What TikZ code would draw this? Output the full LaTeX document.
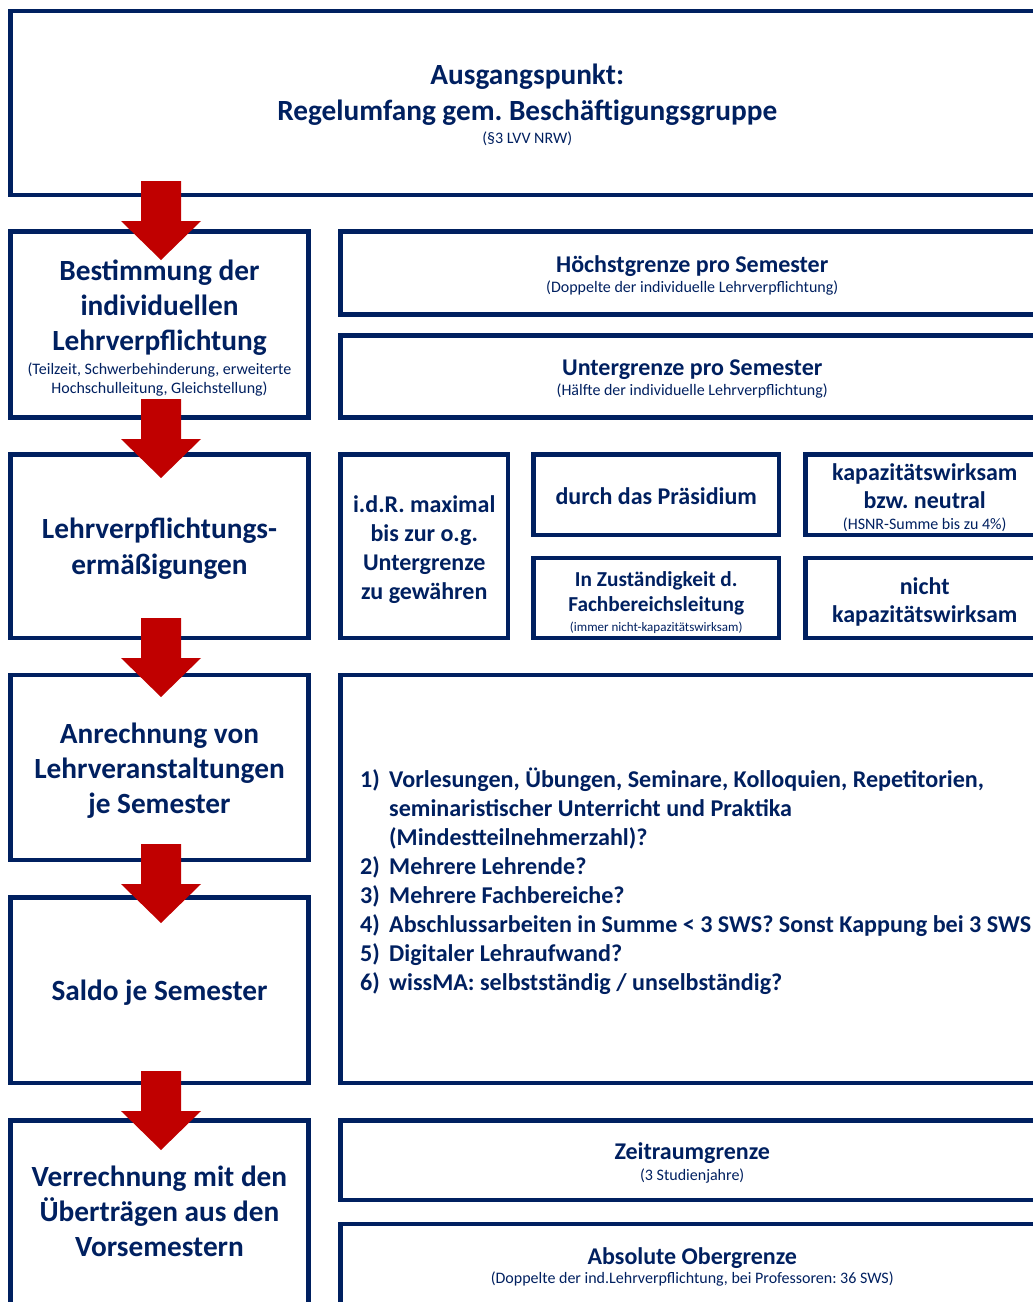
\documentclass[tikz,border=0pt]{standalone}
\usepackage{fontspec}
\setmainfont{Carlito}
\frenchspacing
\definecolor{navy}{HTML}{002060}
\definecolor{arrowred}{HTML}{C00000}
\newcommand\smtxt[1]{{\fontsize{16}{19}\selectfont\mdseries #1}}
\newcommand\tinytxt[1]{{\fontsize{13}{15}\selectfont\mdseries #1}}
\tikzset{
  box/.style={draw=navy, line width=4.5pt, rectangle, outer sep=0pt, inner sep=0pt,
    anchor=north west},
  txt/.style={align=center, text=navy, inner sep=0pt},
  big/.style={font=\fontsize{29.3}{35}\selectfont\bfseries},
  mid/.style={font=\fontsize{24}{#1}\selectfont\bfseries},
  pics/blockarrow/.style={code={
    \fill[arrowred] (-20,0) -- (20,0) -- (20,40) -- (40,40) -- (0,79) -- (-40,40) -- (-20,40) -- cycle;}}
}
\begin{document}
\begin{tikzpicture}[x=1pt,y=-1pt]
\useasboundingbox (0,0) rectangle (1033,1302);
\clip (0,0) rectangle (1033,1302);
\fill[white] (0,0) rectangle (1033,1302);

% boxes
\node[box, minimum width=1033.5pt, minimum height=184pt] (start) at (10.5,11) {};
\node[box, minimum width=298pt, minimum height=186pt] (indiv) at (10.5,231.5) {};
\node[box, minimum width=703.5pt, minimum height=83pt] (hoch) at (340.5,231.5) {};
\node[box, minimum width=703.5pt, minimum height=82pt] (unter) at (340.5,335.5) {};
\node[box, minimum width=298pt, minimum height=183.5pt] (erm) at (10.5,454.5) {};
\node[box, minimum width=167.5pt, minimum height=183.5pt] (idr) at (340.5,454.5) {};
\node[box, minimum width=245.5pt, minimum height=80.5pt] (praes) at (533.5,454.5) {};
\node[box, minimum width=245.5pt, minimum height=80pt] (fbl) at (533.5,558) {};
\node[box, minimum width=238.5pt, minimum height=80.5pt] (kap) at (805.5,454.5) {};
\node[box, minimum width=238.5pt, minimum height=80pt] (nkap) at (805.5,558) {};
\node[box, minimum width=298pt, minimum height=185pt] (anr) at (10.5,675) {};
\node[box, minimum width=703.5pt, minimum height=408pt] (liste) at (340.5,675) {};
\node[box, minimum width=298pt, minimum height=185.5pt] (saldo) at (10.5,897.5) {};
\node[box, minimum width=298pt, minimum height=185pt] (verr) at (10.5,1120.5) {};
\node[box, minimum width=703.5pt, minimum height=79.5pt] (zeit) at (340.5,1120.5) {};
\node[box, minimum width=703.5pt, minimum height=81.5pt] (ober) at (340.5,1224) {};

% texts
\node[txt, font=\fontsize{29.3}{36}\selectfont\bfseries] (start-t) at ([yshift=-2pt]start.center)
  {Ausgangspunkt:\\Regelumfang gem. Beschäftigungsgruppe\\[-13pt]\smtxt{(§3 LVV NRW)}};
\node[txt, big] (indiv-t) at ([yshift=-3.5pt]indiv.center)
  {Bestimmung der\\individuellen\\Lehrverpflichtung\\[-11pt]\smtxt{(Teilzeit, Schwerbehinderung, erweiterte}\\[-16pt]\smtxt{Hochschulleitung, Gleichstellung)}};
\node[txt, mid=23] (hoch-t) at ([yshift=-2.5pt]hoch.center)
  {Höchstgrenze pro Semester\\[-3pt]\smtxt{(Doppelte der individuelle Lehrverpflichtung)}};
\node[txt, mid=23] (unter-t) at ([yshift=-2.5pt]unter.center)
  {Untergrenze pro Semester\\[-3pt]\smtxt{(Hälfte der individuelle Lehrverpflichtung)}};
\node[txt, font=\fontsize{29.3}{36}\selectfont\bfseries] (erm-t) at ([yshift=-2.5pt]erm.center)
  {Lehrverpflichtungs-\\ermäßigungen};
\node[txt, mid=29] (idr-t) at ([yshift=-3.5pt]idr.center)
  {i.d.R. maximal\\bis zur o.g.\\Untergrenze\\zu gewähren};
\node[txt, mid=28] (praes-t) at ([yshift=-1pt]praes.center)
  {durch das Präsidium};
\node[txt, font=\fontsize{21.3}{25}\selectfont\bfseries] (fbl-t) at ([yshift=-4.5pt]fbl.center)
  {In Zuständigkeit d.\\Fachbereichsleitung\\[-5pt]\tinytxt{(immer nicht-kapazitätswirksam)}};
\node[txt, mid=28] (kap-t) at ([yshift=-3pt]kap.center)
  {kapazitätswirksam\\bzw. neutral\\[-7pt]\smtxt{(HSNR-Summe bis zu 4\%)}};
\node[txt, mid=28] (nkap-t) at ([yshift=-4pt]nkap.center)
  {nicht\\kapazitätswirksam};
\node[txt, big] (anr-t) at ([yshift=-3pt]anr.center)
  {Anrechnung von\\Lehrveranstaltungen\\je Semester};
\node[text=navy, anchor=west, inner sep=0pt, font=\fontsize{24.1}{29}\selectfont\bfseries] (liste-t) at (360,883.5)
  {\begin{tabular}{@{}l@{}l@{}}
   \makebox[29pt][l]{1)} & Vorlesungen, Übungen, Seminare, Kolloquien, Repetitorien,\\
   & seminaristischer Unterricht und Praktika\\
   & (Mindestteilnehmerzahl)?\\
   \makebox[29pt][l]{2)} & Mehrere Lehrende?\\
   \makebox[29pt][l]{3)} & Mehrere Fachbereiche?\\
   \makebox[29pt][l]{4)} & Abschlussarbeiten in Summe < 3 SWS? Sonst Kappung bei 3 SWS\\
   \makebox[29pt][l]{5)} & Digitaler Lehraufwand?\\
   \makebox[29pt][l]{6)} & wissMA: selbstständig / unselbständig?
   \end{tabular}};
\node[txt, big] (saldo-t) at ([yshift=-2pt]saldo.center)
  {Saldo je Semester};
\node[txt, big] (verr-t) at ([yshift=2pt]verr.center)
  {Verrechnung mit den\\Überträgen aus den\\Vorsemestern};
\node[txt, mid=23] (zeit-t) at ([yshift=-3pt]zeit.center)
  {Zeitraumgrenze\\[-2pt]\smtxt{(3 Studienjahre)}};
\node[txt, mid=22] (ober-t) at ([yshift=-2.5pt]ober.center)
  {Absolute Obergrenze\\[-3pt]\smtxt{(Doppelte der ind.Lehrverpflichtung, bei Professoren: 36 SWS)}};

% arrows
\pic at (161,181) {blockarrow};
\pic at (161,399) {blockarrow};
\pic at (161,618) {blockarrow};
\pic at (161,844) {blockarrow};
\pic at (161,1071) {blockarrow};
\end{tikzpicture}
\end{document}
